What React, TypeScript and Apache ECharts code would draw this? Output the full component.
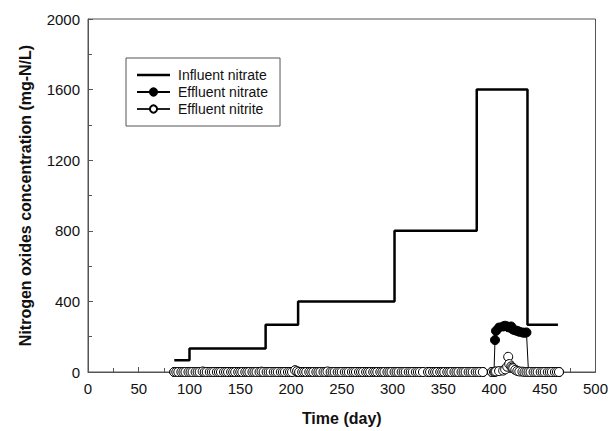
import React, { useEffect, useRef } from "react";
import * as echarts from "echarts";

const influentDays = [85, 100, 100, 175, 175, 207, 207, 302, 302, 383, 383, 433, 433, 463];
const influentValues = [67, 67, 133, 133, 267, 267, 400, 400, 800, 800, 1600, 1600, 267, 267];

const sampleDays = [
  85, 87, 89, 92, 94, 96, 99, 101, 103, 106,
  108, 110, 113, 115, 117, 120, 122, 124, 127, 129,
  131, 134, 136, 138, 141, 143, 145, 148, 150, 152,
  155, 157, 159, 162, 164, 166, 169, 171, 173, 176,
  178, 180, 183, 185, 187, 190, 192, 194, 197, 199,
  201, 204, 206, 208, 211, 213, 215, 218, 220, 222,
  225, 227, 229, 232, 234, 236, 239, 241, 243, 246,
  248, 250, 253, 255, 257, 260, 262, 264, 267, 269,
  271, 274, 276, 278, 281, 283, 285, 288, 290, 292,
  295, 297, 299, 302, 304, 306, 309, 311, 313, 316,
  318, 320, 323, 325, 327, 330, 335, 337, 340, 342,
  344, 347, 349, 351, 354, 356, 358, 361, 363, 365,
  368, 370, 372, 375, 377, 379, 382, 384, 386, 389,
  398, 400, 401, 402, 405, 409, 411, 413, 414, 415,
  417, 418, 419, 421, 423, 425, 428, 430, 432, 434,
  436, 439, 441, 443, 446, 448, 450, 453, 455, 457,
  460, 462, 464,
];

const effluentNitrate = [
  0, 0, 0, 0, 0, 0, 0, 0, 0, 0,
  0, 0, 0, 0, 0, 0, 0, 0, 0, 0,
  0, 0, 0, 0, 0, 0, 0, 0, 0, 0,
  0, 0, 0, 0, 0, 0, 0, 0, 0, 0,
  0, 0, 0, 0, 0, 0, 0, 0, 0, 0,
  0, 8, 0, 0, 0, 0, 0, 0, 0, 0,
  0, 0, 0, 0, 0, 0, 0, 0, 0, 0,
  0, 0, 0, 0, 0, 0, 0, 0, 0, 0,
  0, 0, 0, 0, 0, 0, 0, 0, 0, 0,
  0, 0, 0, 0, 0, 0, 0, 0, 0, 0,
  0, 0, 0, 0, 0, 0, 0, 0, 0, 0,
  0, 0, 0, 0, 0, 0, 0, 0, 0, 0,
  0, 0, 0, 0, 0, 0, 0, 0, 0, 0,
  0, 0, 181, 233, 252, 258, 262, 258, 255, 252,
  258, 246, 240, 236, 233, 228, 224, 222, 224, 0,
  0, 0, 0, 0, 0, 0, 0, 0, 0, 0,
  0, 0, 0,
];

const effluentNitrite = [
  0, 0, 0, 0, 0, 0, 0, 0, 0, 0,
  0, 0, 3, 0, 0, 0, 0, 0, 0, 0,
  0, 0, 0, 0, 0, 0, 0, 0, 0, 0,
  0, 0, 0, 0, 0, 0, 0, 2, 0, 0,
  0, 0, 0, 0, 0, 0, 0, 0, 0, 0,
  0, 10, 5, 0, 0, 0, 0, 0, 0, 0,
  0, 0, 0, 0, 0, 3, 0, 0, 0, 0,
  0, 0, 0, 0, 0, 0, 0, 0, 0, 0,
  0, 0, 0, 0, 0, 0, 0, 0, 0, 0,
  0, 0, 0, 0, 0, 0, 0, 0, 0, 0,
  0, 0, 0, 0, 0, 0, 0, 0, 0, 0,
  0, 0, 0, 0, 0, 0, 0, 0, 0, 0,
  0, 0, 0, 0, 0, 0, 0, 0, 0, 0,
  0, 0, 2, 3, 5, 8, 15, 30, 86, 45,
  32, 25, 21, 12, 6, 3, 2, 0, 0, 0,
  0, 0, 0, 0, 0, 0, 0, 0, 0, 0,
  0, 0, 0,
];

const seriesNames = ["Influent nitrate", "Effluent nitrate", "Effluent nitrite"];
const xAxisTitle = "Time (day)";
const yAxisTitle = "Nitrogen oxides concentration (mg-N/L)";

const FONT = "'Liberation Sans', Arial, sans-serif";

export default function App() {
  const ref = useRef<HTMLDivElement>(null);
  useEffect(() => {
    if (!ref.current) return;
    const chart = echarts.init(ref.current, null, { renderer: "svg" });
    const pair = (xs: number[], ys: number[]) => xs.map((x, i) => [x, ys[i]]);
    const axisCommon = {
      axisLine: { show: true, lineStyle: { color: "#555", width: 1 } },
      axisTick: { show: true, inside: true, length: 5, lineStyle: { color: "#555" } },
      minorTick: { show: true, splitNumber: 2, length: 4, lineStyle: { color: "#555" } },
      splitLine: { show: false },
      axisLabel: { color: "#111", fontSize: 15, fontFamily: FONT, formatter: (v: number) => String(v) },
      nameTextStyle: { color: "#111", fontSize: 16, fontWeight: "bold" as const, fontFamily: FONT },
    };
    chart.setOption({
      animation: false,
      backgroundColor: "#fff",
      grid: { left: 88, right: 15, top: 19, bottom: 58, show: true, borderColor: "#555", borderWidth: 1, backgroundColor: "transparent" },
      legend: {
        data: [
          { name: seriesNames[0], icon: "path://M0,0 L33,0 L33,2.5 L0,2.5 Z" },
          { name: seriesNames[1] },
          { name: seriesNames[2] },
        ],
        orient: "vertical",
        left: 126,
        top: 58,
        padding: [10, 12, 10, 10],
        itemGap: 3,
        itemWidth: 33,
        itemHeight: 9,
        borderColor: "#555",
        borderWidth: 1,
        textStyle: { color: "#111", fontSize: 14, fontFamily: FONT, padding: [0, 0, 0, 3] },
      },
      xAxis: {
        type: "value",
        min: 0,
        max: 500,
        interval: 50,
        name: xAxisTitle,
        nameLocation: "middle",
        nameGap: 38,
        ...axisCommon,
        axisLabel: { ...axisCommon.axisLabel, margin: 9 },
      },
      yAxis: {
        type: "value",
        min: 0,
        max: 2000,
        interval: 400,
        name: yAxisTitle,
        nameLocation: "middle",
        nameGap: 55,
        ...axisCommon,
        axisLabel: { ...axisCommon.axisLabel, margin: 8 },
      },
      series: [
        {
          name: seriesNames[0],
          type: "line",
          data: pair(influentDays, influentValues),
          symbol: "none",
          lineStyle: { color: "#000", width: 2.5 },
          itemStyle: { color: "#000" },
          z: 2,
        },
        {
          name: seriesNames[1],
          type: "line",
          data: pair(sampleDays, effluentNitrate),
          symbol: "circle",
          symbolSize: 9,
          showAllSymbol: true,
          lineStyle: { color: "#000", width: 1 },
          itemStyle: { color: "#000", borderColor: "#000", borderWidth: 1 },
          z: 3,
        },
        {
          name: seriesNames[2],
          type: "line",
          data: pair(sampleDays, effluentNitrite),
          symbol: "circle",
          symbolSize: 9,
          showAllSymbol: true,
          lineStyle: { color: "#222", width: 1 },
          itemStyle: { color: "#fff", borderColor: "#000", borderWidth: 1 },
          z: 4,
        },
      ],
    });
    return () => chart.dispose();
  }, []);
  return <div ref={ref} style={{ position: "absolute", left: 0, top: 0, width: 611, height: 431 }} />;
}
